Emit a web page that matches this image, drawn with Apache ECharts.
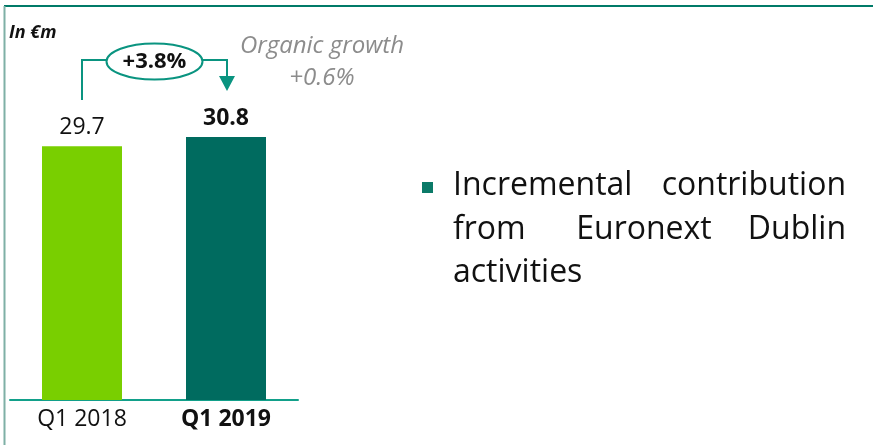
<!DOCTYPE html>
<html><head><meta charset="utf-8">
<script src="https://cdn.jsdelivr.net/npm/echarts@6/dist/echarts.min.js"></script>
<style>html,body{margin:0;padding:0;background:#fff}#c{width:873px;height:445px}</style>
</head><body><div id="c"></div>
<script>
const categories = ['Q1 2018', 'Q1 2019'];
const revenue = [29.7, 30.8];
const growthLabel = '+3.8%';
const organicLabel = ['Organic growth', '+0.6%'];
const unitLabel = 'In €m';
const bulletLines = [['Incremental', 'contribution'], ['from', 'Euronext', 'Dublin'], ['activities']];

const chart = echarts.init(document.getElementById('c'));
const FONT = '"Open Sans", sans-serif';
const barColors = ['#79cf00', '#006b5f'];

chart.setOption({
  animation: false,
  grid: { left: 10, right: 575, top: 101, bottom: 45 },
  xAxis: {
    type: 'category', data: categories,
    axisLine: { lineStyle: { color: '#12a08a', width: 2 } },
    axisTick: { show: false },
    axisLabel: {
      interval: 0, margin: 8, fontFamily: FONT, fontSize: 23, color: '#111',
      formatter: (v, i) => i === 1 ? '{b|' + v + '}' : '{n|' + v + '}',
      rich: { n: { fontFamily: FONT, fontSize: 23, color: '#111' }, b: { fontFamily: FONT, fontSize: 23, fontWeight: 'bold', color: '#111' } }
    }
  },
  yAxis: { type: 'value', min: 0, max: 35, show: false, splitLine: { show: false } },
  series: [{
    type: 'bar', barWidth: 80,
    data: revenue.map((v, i) => ({
      value: v,
      itemStyle: { color: barColors[i] },
      label: { fontWeight: i === 1 ? 'bold' : 'normal' }
    })),
    label: { show: true, position: 'top', distance: 7, fontFamily: FONT, fontSize: 23, color: '#111', formatter: p => p.value.toFixed(1) }
  }]
});

function build() {
  const p0 = chart.convertToPixel({ seriesIndex: 0 }, [0, revenue[0]]);
  const p1 = chart.convertToPixel({ seriesIndex: 0 }, [1, revenue[1]]);
  const x0 = p0[0], x1 = p1[0];
  const cy = 60;
  const ex = (x0 + x1) / 2 + 0.5;
  const teal = '#0a9480';
  const els = [
    { type: 'line', shape: { x1: 4, y1: 6, x2: 873, y2: 6 }, style: { stroke: '#007a68', lineWidth: 2 } },
    { type: 'line', shape: { x1: 4.5, y1: 6, x2: 4.5, y2: 445 }, style: { stroke: '#7fb0a6', lineWidth: 2 } },
    { type: 'text', x: 9, y: 33, style: { text: unitLabel, font: 'italic bold 18px ' + FONT, fill: '#111', verticalAlign: 'middle' } },
    { type: 'polyline', shape: { points: [[x0, 100], [x0, cy], [ex - 48, cy]] }, style: { stroke: teal, lineWidth: 2, fill: null } },
    { type: 'polyline', shape: { points: [[ex + 48, cy], [x1 + 1, cy], [x1 + 1, 78]] }, style: { stroke: teal, lineWidth: 2, fill: null } },
    { type: 'polygon', shape: { points: [[x1 - 7, 76], [x1 + 9, 76], [x1 + 1, 91]] }, style: { fill: teal } },
    { type: 'ellipse', shape: { cx: ex, cy: 61.5, rx: 48, ry: 18 }, style: { stroke: teal, lineWidth: 2, fill: '#fff' } },
    { type: 'text', x: ex, y: 61.5, style: { text: growthLabel, font: 'bold 22px ' + FONT, fill: '#111', align: 'center', verticalAlign: 'middle' } },
    { type: 'text', x: 322, y: 46, style: { text: organicLabel[0], font: 'italic 24px ' + FONT, fill: '#8c8c8c', align: 'center', verticalAlign: 'middle' } },
    { type: 'text', x: 322, y: 78, style: { text: organicLabel[1], font: 'italic 24px ' + FONT, fill: '#8c8c8c', align: 'center', verticalAlign: 'middle' } },
    { type: 'rect', shape: { x: 422, y: 182, width: 11, height: 11 }, style: { fill: '#0b7a68' } }
  ];
  const L = 453, R = 846, lineY = [186, 230, 273];
  const wordX = [[L, R], [L, 644, R], [L]];
  bulletLines.forEach((words, li) => {
    words.forEach((w, wi) => {
      let align = 'left';
      if (words.length > 1) {
        if (wi === words.length - 1) align = 'right';
        else if (wi > 0) align = 'center';
      }
      els.push({ type: 'text', x: wordX[li][wi], y: lineY[li], style: { text: w, font: '32px ' + FONT, fill: '#111', align: align, verticalAlign: 'middle' } });
    });
  });
  chart.setOption({ graphic: els });
}
build();
</script></body></html>
